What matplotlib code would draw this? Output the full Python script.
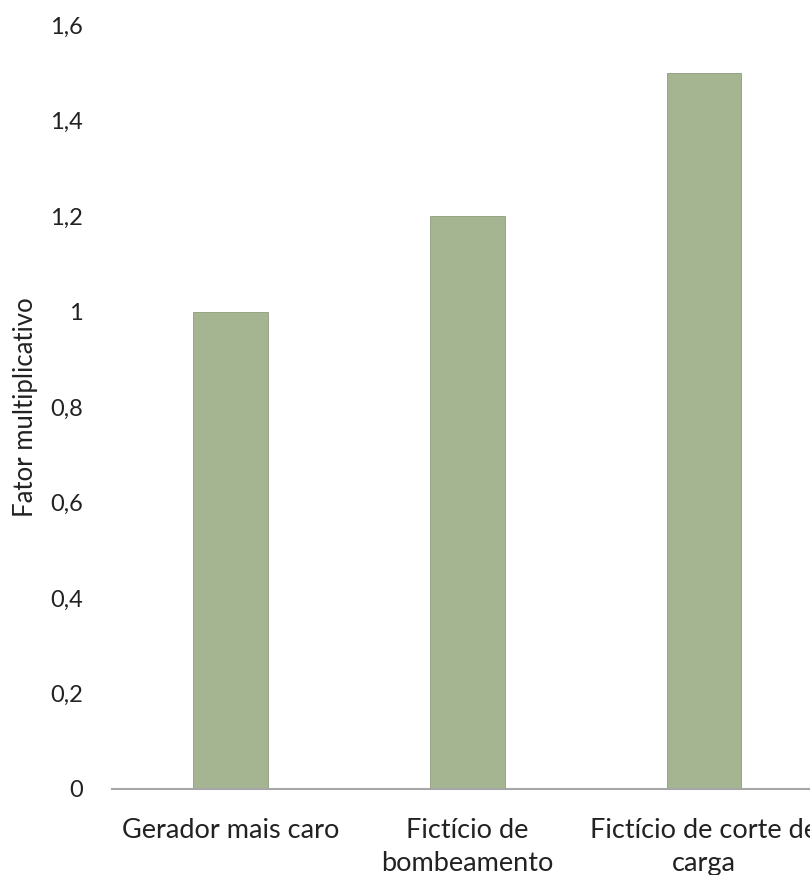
import matplotlib.pyplot as plt

categorias = ['Gerador mais caro', 'Fictício de\nbombeamento', 'Fictício de corte de\ncarga']
valores = [1.0, 1.2, 1.5]
yticks = [0, 0.2, 0.4, 0.6, 0.8, 1.0, 1.2, 1.4, 1.6]
ytick_labels = ['0', '0,2', '0,4', '0,6', '0,8', '1', '1,2', '1,4', '1,6']

plt.rcParams['font.family'] = ['Lato', 'DejaVu Sans']

fig = plt.figure(figsize=(8.1, 8.75), dpi=100)
ax = fig.add_axes([0.1383, 0.0983, 0.877, 0.873])

x = range(len(categorias))
ax.bar(x, valores, width=0.316, color='#A5B592', edgecolor='#8E9C7C', linewidth=0.6)

ax.set_xlim(-0.5, 2.5)
ax.set_ylim(0, 1.6)
ax.set_yticks(yticks)
ax.set_yticklabels(ytick_labels, fontsize=17, color='#222222')
ax.set_xticks(list(x))
ax.set_xticklabels(categorias, fontsize=19.5, color='#222222', linespacing=1.38)
ax.tick_params(axis='y', length=0, pad=21)
ax.tick_params(axis='x', length=0, pad=21)

for s in ['top', 'right', 'left']:
    ax.spines[s].set_visible(False)
ax.spines['bottom'].set_color('#A6A6A6')
ax.spines['bottom'].set_linewidth(1.5)

ax.set_ylabel('Fator multiplicativo', fontsize=18.5, color='#222222')
ax.yaxis.set_label_coords(-0.104, 0.5)

fig.savefig('out.png', dpi=100)
